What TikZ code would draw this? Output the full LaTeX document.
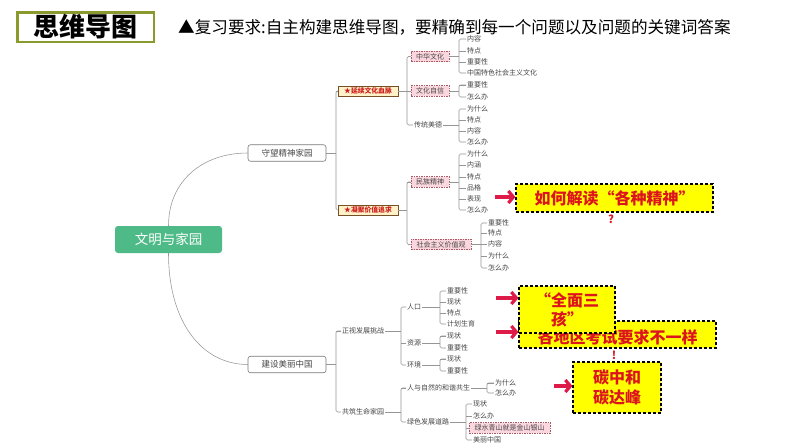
\documentclass[tikz,border=0pt]{standalone}
\usepackage{fontspec}
\setmainfont{Noto Sans CJK SC}
\usetikzlibrary{arrows.meta}
\definecolor{lgray}{RGB}{150,150,150}
\definecolor{tgray}{RGB}{70,70,70}
\definecolor{bgray}{RGB}{120,120,120}
\definecolor{pborder}{RGB}{170,90,100}
\definecolor{pfill}{RGB}{250,214,222}
\definecolor{sborder}{RGB}{120,80,40}
\definecolor{sfill}{RGB}{255,242,200}
\definecolor{sred}{RGB}{205,30,30}
\definecolor{cyellow}{RGB}{255,255,0}
\definecolor{cred}{RGB}{220,20,30}
\definecolor{ared}{RGB}{222,26,72}
\definecolor{rgreen}{RGB}{77,186,135}
\definecolor{olive}{RGB}{138,154,44}
\newcommand\mmgroup[5]{%
  \draw[conn] (#1.east) -- (#1.east -| #2);
  \draw[conn,rounded corners=1.5pt] (#3.west) -- (#3.west -| #2) -- (#4.west -| #2) -- (#4.west);
  \foreach \c in {#5} {\draw[conn] (\c.west -| #2) -- (\c.west);}
}
\tikzset{
  conn/.style={draw=lgray, line width=0.55pt},
  leaf/.style={font=\fontsize{7}{8}\selectfont, text=tgray, anchor=west, inner sep=1pt},
  pinkbox/.style={draw=pborder, fill=pfill, dash pattern=on 1.5pt off 1pt, line width=0.6pt, minimum height=10.5pt, inner sep=0pt, font=\fontsize{7}{8}\selectfont, text=tgray},
  starbox/.style={draw=sborder, fill=sfill, line width=0.6pt, minimum width=60pt, minimum height=10pt, inner sep=0pt, font=\bfseries\fontsize{6.8}{8}\selectfont, text=sred},
  mainbox/.style={draw=bgray, fill=white, rounded corners=2.5pt, line width=0.6pt, minimum width=78pt, minimum height=16.5pt, inner sep=0pt, font=\fontsize{8.5}{10}\selectfont, text=tgray},
  callout/.style={draw=black, fill=cyellow, dash pattern=on 3pt off 2pt, line width=1.1pt, inner sep=0pt, text=cred, font=\bfseries\fontsize{16}{19}\selectfont, align=center},
  redarrow/.style={draw=ared, line width=3.2pt, -{Straight Barb[length=5pt,width=12pt]}},
  marktext/.style={text=cred, font=\bfseries\fontsize{11}{12}\selectfont, inner sep=0pt},
}
\begin{document}
\begin{tikzpicture}[x=1pt,y=-1pt]
\useasboundingbox (0,0) rectangle (794,447);
\fill[white] (0,0) rectangle (794,447);
% title
\node[draw=olive, line width=2.5pt, minimum width=136.5pt, minimum height=29.5pt, inner sep=0pt, font=\bfseries\fontsize{26}{28}\selectfont] (title) at (85.5,27) {思维导图};
\node[anchor=west, inner sep=0pt, font=\fontsize{16.6}{18}\selectfont] (req) at (178,27) {▲复习要求:自主构建思维导图，要精确到每一个问题以及问题的关键词答案};
% root and main branches
\node[fill=rgreen, rounded corners=3pt, minimum width=107pt, minimum height=27pt, inner sep=0pt, text=white, font=\fontsize{13.5}{15}\selectfont] (root) at (168.5,239.5) {文明与家园};
\node[mainbox] (p1) at (287,153) {守望精神家园};
\node[mainbox] (p2) at (287,364.5) {建设美丽中国};
\draw[conn] (root.north) .. controls +(0,-45) and +(-45,0) .. (p1.west);
\draw[conn] (root.south) .. controls +(0,70) and +(-45,0) .. (p2.west);
% bar coordinates
\coordinate (x336) at (336,0);
\coordinate (x407) at (407,0);
\coordinate (x459) at (459,0);
\coordinate (x481) at (481,0);
\coordinate (x401) at (401,0);
\coordinate (x440) at (440,0);
\coordinate (x487) at (487,0);
\coordinate (x466) at (466,0);
% upper tree
\node[starbox] (s1) at (368,91) {★延续文化血脉};
\node[starbox] (s2) at (368,210) {★凝聚价值追求};
\node[pinkbox, minimum width=38pt] (m1) at (430,56.5) {中华文化};
\node[pinkbox, minimum width=38pt] (m2) at (430,91) {文化自信};
\node[leaf] (m3) at (413,125) {传统美德};
\node[pinkbox, minimum width=38pt] (m4) at (430,182) {民族精神};
\node[pinkbox, minimum width=60pt] (m5) at (441,244.5) {社会主义价值观};
\foreach \n/\y/\t in {a1/39/内容, a2/51/特点, a3/62/重要性, a4/73/中国特色社会主义文化,
  b1/85/重要性, b2/97/怎么办,
  c1/109/为什么, c2/120/特点, c3/131/内容, c4/142/怎么办,
  d1/154/为什么, d2/165/内涵, d3/177/特点, d4/188/品格, d5/199/表现, d6/210/怎么办}
  {\node[leaf] (\n) at (466,\y) {\t};}
\foreach \n/\y/\t in {e1/223/重要性, e2/233/特点, e3/244/内容, e4/256/为什么, e5/268/怎么办}
  {\node[leaf] (\n) at (487,\y) {\t};}
\mmgroup{p1}{x336}{s1}{s2}{s1}
\mmgroup{s1}{x407}{m1}{m3}{m2}
\mmgroup{s2}{x407}{m4}{m5}{m4}
\mmgroup{m1}{x459}{a1}{a4}{a2,a3}
\mmgroup{m2}{x459}{b1}{b2}{b1}
\mmgroup{m3}{x459}{c1}{c4}{c2,c3}
\mmgroup{m4}{x459}{d1}{d6}{d2,d3,d4,d5}
\mmgroup{m5}{x481}{e1}{e5}{e2,e3,e4}
% lower tree
\node[leaf] (n1) at (341,331) {正视发展挑战};
\node[leaf] (n2) at (341,412) {共筑生命家园};
\node[leaf] (k1) at (406,307) {人口};
\node[leaf] (k2) at (406,343) {资源};
\node[leaf] (k3) at (406,365) {环境};
\node[leaf] (k4) at (406,388) {人与自然的和谐共生};
\node[leaf] (k5) at (406,422) {绿色发展道路};
\foreach \n/\y/\t in {f1/291/重要性, f2/302/现状, f3/313/特点, f4/324/计划生育,
  g1/336/现状, g2/348/重要性, h1/359/现状, h2/371/重要性}
  {\node[leaf] (\n) at (446,\y) {\t};}
\foreach \n/\y/\t in {i1/383/为什么, i2/393/怎么办}
  {\node[leaf] (\n) at (494,\y) {\t};}
\node[leaf] (j1) at (472,404) {现状};
\node[leaf] (j2) at (472,416) {怎么办};
\node[pinkbox, minimum width=81pt] (j3) at (509.5,428) {绿水青山就是金山银山};
\node[leaf] (j4) at (472,440) {美丽中国};
\mmgroup{p2}{x336}{n1}{n2}{n1}
\mmgroup{n1}{x401}{k1}{k3}{k2}
\mmgroup{n2}{x401}{k4}{k5}{k4}
\mmgroup{k1}{x440}{f1}{f4}{f2,f3}
\mmgroup{k2}{x440}{g1}{g2}{g1}
\mmgroup{k3}{x440}{h1}{h2}{h1}
\mmgroup{k4}{x487}{i1}{i2}{i1}
\mmgroup{k5}{x466}{j1}{j4}{j2,j3}
% callouts
\node[callout, minimum width=197pt, minimum height=28pt] (q1) at (614.5,198) {如何解读“各种精神”};
\node[marktext] (qm) at (611,219) {?};
\node[callout, minimum width=197pt, minimum height=27pt, text depth=0pt] (q3) at (617.5,334.5) {\raisebox{-4pt}{各地区考试要求不一样}};
\node[callout, minimum width=96pt, minimum height=47pt] (q2) at (567,309.5) {“全面三\\孩”};
\node[marktext] (em) at (614,355) {!};
\node[callout, minimum width=88pt, minimum height=51pt, font=\bfseries\fontsize{16}{20}\selectfont] (q4) at (617,387.5) {碳中和\\碳达峰};
\coordinate (r1) at (495,197);
\coordinate (r2) at (496,298);
\coordinate (r3) at (496,332);
\coordinate (r4) at (554,386);
\draw[redarrow] (r1) -- (r1 -| q1.west);
\draw[redarrow] (r2) -- (r2 -| q2.west);
\draw[redarrow] (r3) -- (r3 -| q3.west);
\draw[redarrow] (r4) -- (r4 -| q4.west);
\end{tikzpicture}
\end{document}
